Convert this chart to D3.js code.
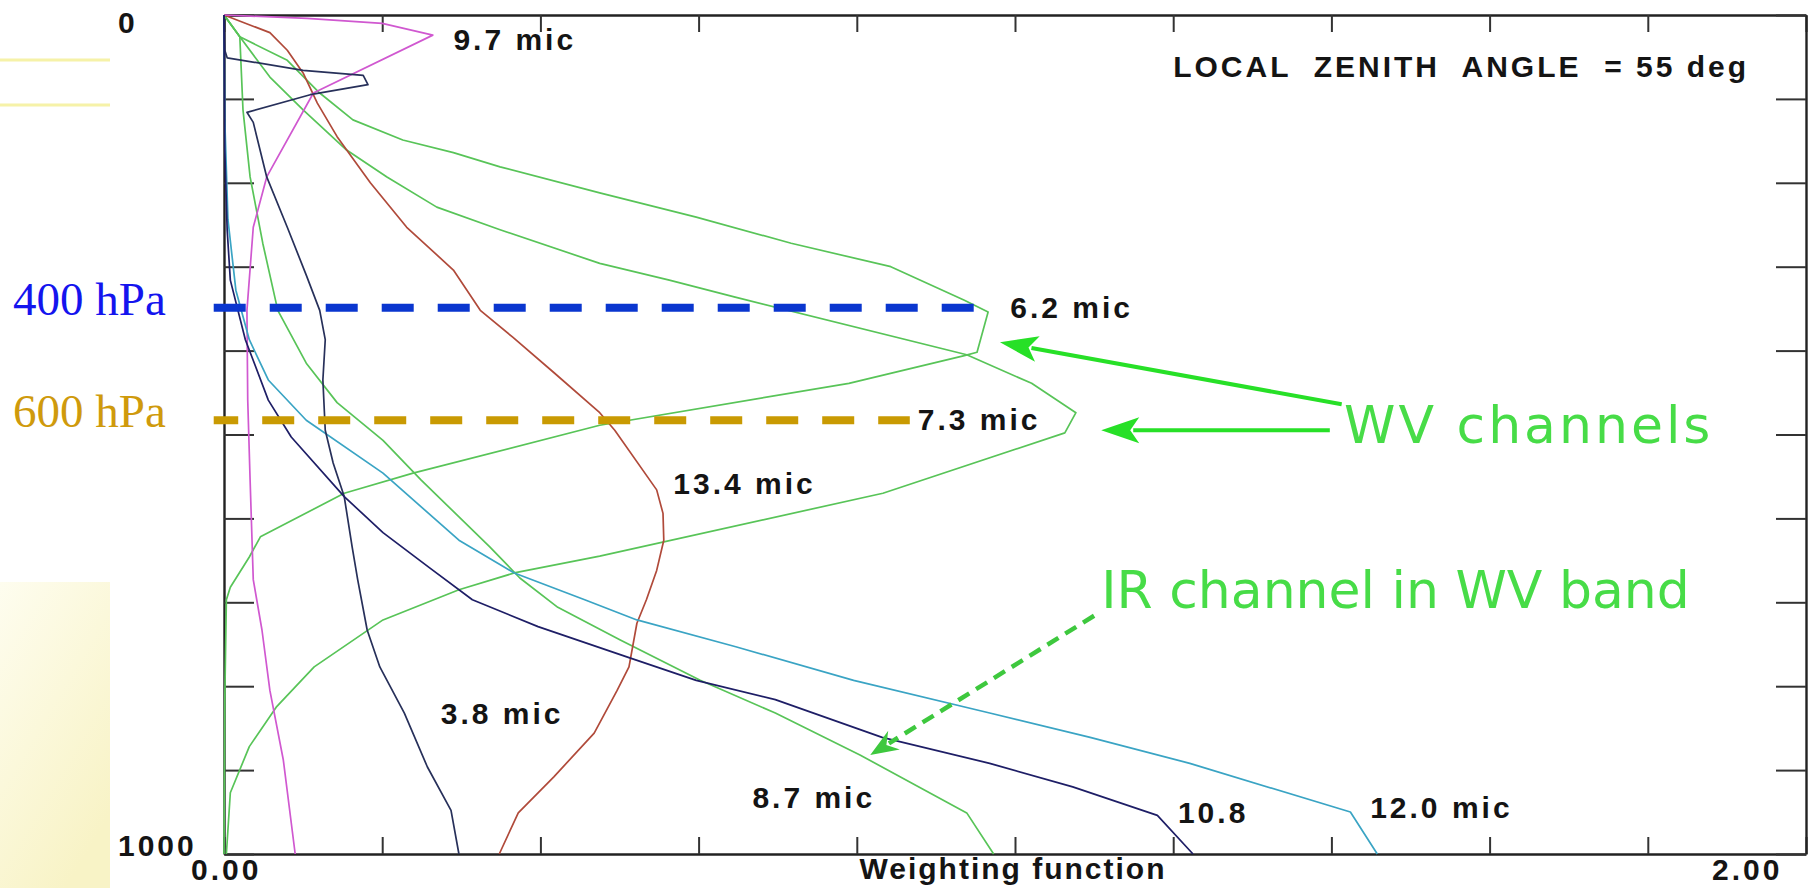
<!DOCTYPE html>
<html>
<head>
<meta charset="utf-8">
<title>Weighting functions - local zenith angle 55 deg</title>
<script src="https://cdn.jsdelivr.net/npm/d3@7"></script>
<style>
  body { margin: 0; background: #fff; }
  svg { display: block; }
  .lbl { font-family: "Liberation Sans", Arial, sans-serif; font-weight: bold; font-size: 30px;
         letter-spacing: 3px; fill: #141414; white-space: pre; }
  .note { font-family: "DejaVu Sans", sans-serif; font-size: 52px; fill: #47dc47; }
  .hpa { font-family: "Liberation Serif", "Times New Roman", serif; font-size: 47px; }
</style>
</head>
<body>
<svg width="1817" height="888"></svg>
<script>
// weighting function profiles: [weight, level]  (level 0 = top, 1000 = surface)
var ch38 = [[0,0],[0.001,42],[0.004,51],[0.100,66],[0.176,72],[0.182,83],[0.109,95],[0.029,116],[0.037,128],
  [0.054,193],[0.080,253],[0.104,310],[0.121,352],[0.128,387],[0.125,435],[0.128,495],[0.138,534],[0.152,574],
  [0.162,634],[0.169,673],[0.181,733],[0.197,777],[0.228,832],[0.257,896],[0.287,948],[0.297,1000]];
var ch62 = [[0,0],[0.020,26],[0.080,54],[0.121,93],[0.163,125],[0.226,149],[0.290,164],[0.349,181],[0.475,212],
  [0.597,241],[0.717,272],[0.843,300],[0.936,340],[0.966,354],[0.952,402],[0.936,406],[0.790,439],[0.475,489],
  [0.239,546],[0.152,570],[0.046,622],[0.032,646],[0.008,682],[0.003,697],[0.001,816],[0,1000]];
var ch73 = [[0,0],[0.020,26],[0.058,74],[0.100,113],[0.155,161],[0.206,193],[0.269,229],[0.349,256],[0.475,296],
  [0.563,316],[0.645,336],[0.939,405],[1.021,439],[1.077,474],[1.063,498],[0.833,570],[0.475,645],[0.367,665],
  [0.297,685],[0.201,721],[0.114,777],[0.066,825],[0.032,872],[0.008,927],[0.003,1000]];
var ch87 = [[0,0],[0.020,26],[0.024,113],[0.033,193],[0.049,272],[0.068,352],[0.104,415],[0.143,462],[0.201,507],
  [0.249,554],[0.336,634],[0.374,671],[0.422,706],[0.501,745],[0.602,793],[0.697,832],[0.804,882],[0.939,951],[0.973,1000]];
var ch97 = [[0,0],[0.105,4],[0.200,10],[0.264,24],[0.113,93],[0.054,193],[0.037,253],[0.029,352],[0.030,459],
  [0.033,554],[0.037,673],[0.048,733],[0.058,805],[0.075,888],[0.090,1000]];
var ch108 = [[0,0],[0.001,161],[0.004,256],[0.008,316],[0.027,387],[0.056,459],[0.085,503],[0.152,574],[0.201,617],
  [0.260,659],[0.314,697],[0.397,729],[0.512,766],[0.597,793],[0.697,816],[0.832,861],[0.968,892],[1.073,920],
  [1.180,954],[1.225,1000]];
var ch120 = [[0,0],[0.001,125],[0.005,244],[0.015,328],[0.032,387],[0.056,435],[0.104,483],[0.201,546],[0.297,626],
  [0.367,665],[0.456,697],[0.522,721],[0.647,753],[0.796,793],[0.968,832],[1.095,861],[1.221,892],[1.424,950],[1.458,1000]];
var ch134 = [[0,0],[0.058,21],[0.080,42],[0.100,69],[0.118,105],[0.143,145],[0.185,200],[0.231,253],[0.290,304],
  [0.324,352],[0.365,384],[0.418,427],[0.475,474],[0.494,495],[0.547,566],[0.555,594],[0.556,626],[0.547,662],
  [0.534,697],[0.522,725],[0.512,777],[0.497,805],[0.468,856],[0.417,908],[0.372,951],[0.348,1000]];

var xTicks = [0, 0.2, 0.4, 0.6, 0.8, 1.0, 1.2, 1.4, 1.6, 1.8, 2.0];
var yTicks = [0, 100, 200, 300, 400, 500, 600, 700, 800, 900, 1000];
var xTickLabels = ["0.00", "2.00"];
var yTickLabels = ["0", "1000"];

var curveLabels = [
  { text: "9.7 mic", w: 0.290, p: 42 },
  { text: "6.2 mic", w: 0.994, p: 361 },
  { text: "7.3 mic", w: 0.877, p: 495 },
  { text: "13.4 mic", w: 0.568, p: 571 },
  { text: "3.8 mic", w: 0.274, p: 845 },
  { text: "8.7 mic", w: 0.668, p: 945 },
  { text: "10.8", w: 1.206, p: 963 },
  { text: "12.0 mic", w: 1.449, p: 957 },
  { text: "LOCAL  ZENITH  ANGLE  = 55 deg", w: 1.200, p: 74 }
];

// pressure marker lines (level in axis units)
var refLines = [
  { label: "400 hPa", level: 349, from: -0.013, to: 0.948, offset: 0 },
  { label: "600 hPa", level: 483, from: -0.013, to: 0.867, offset: 7.5 }
];

var notes = [
  { text: "WV channels", w: 1.416, p: 510, spacing: 3 },
  { text: "IR channel in WV band", w: 1.109, p: 707, spacing: 0 }
];
var arrows = [
  { from: [1.413, 464], to: [0.981, 390], dashed: false },
  { from: [1.398, 495], to: [1.109, 495], dashed: false },
  { from: [1.100, 716], to: [0.817, 882], dashed: true }
];

var chColor = { "3.8": "#27305a", "6.2": "#58c458", "7.3": "#58c458", "8.7": "#58c458",
                "9.7": "#d058d0", "10.8": "#1e1e66", "12.0": "#3aa4c4", "13.4": "#b04a3a" };
var channels = [
  { name: "6.2", values: ch62 }, { name: "7.3", values: ch73 }, { name: "8.7", values: ch87 },
  { name: "13.4", values: ch134 }, { name: "9.7", values: ch97 }, { name: "12.0", values: ch120 },
  { name: "3.8", values: ch38 }, { name: "10.8", values: ch108 }
];
var refColor = [{ text: "#1414ee", dash: "#0a36cf" }, { text: "#cf9a0c", dash: "#c99a02" }];

var svg = d3.select("svg");
var x = d3.scaleLinear().domain([0, 2]).range([224, 1806]);
var y = d3.scaleLinear().domain([0, 1000]).range([15, 854]);

// pale slide decoration on the left
var defs = svg.append("defs");
var grad = defs.append("linearGradient").attr("id", "cream")
  .attr("x1", "0").attr("y1", "0").attr("x2", "0.6").attr("y2", "1");
grad.append("stop").attr("offset", "0%").attr("stop-color", "#fefdef");
grad.append("stop").attr("offset", "100%").attr("stop-color", "#f8f3c6");
svg.append("rect").attr("x", 0).attr("y", 582).attr("width", 110).attr("height", 306).attr("fill", "url(#cream)");
[60, 105].forEach(function (yy) {
  svg.append("rect").attr("x", 0).attr("y", yy - 1.5).attr("width", 110).attr("height", 3).attr("fill", "#f6f2a8");
});

// frame with inward ticks
var axes = svg.append("g");
axes.append("g").attr("transform", "translate(0," + y(1000) + ")")
  .call(d3.axisBottom(x).tickValues(xTicks).tickSize(-17).tickSizeOuter(0).tickFormat(""));
axes.append("g").attr("transform", "translate(0," + y(0) + ")")
  .call(d3.axisTop(x).tickValues(xTicks).tickSize(-17).tickSizeOuter(0).tickFormat(""));
axes.append("g").attr("transform", "translate(" + x(0) + ",0)")
  .call(d3.axisLeft(y).tickValues(yTicks).tickSize(-30).tickSizeOuter(0).tickFormat(""));
axes.append("g").attr("transform", "translate(" + x(2) + ",0)")
  .call(d3.axisRight(y).tickValues(yTicks).tickSize(-30).tickSizeOuter(0).tickFormat(""));
axes.selectAll(".domain").attr("stroke", "#222").attr("stroke-width", 2.4);
axes.selectAll(".tick line").attr("stroke", "#333").attr("stroke-width", 2);

// curves
var line = d3.line().x(function (d) { return x(d[0]); }).y(function (d) { return y(d[1]); });
svg.append("g").selectAll("path").data(channels).enter().append("path")
  .attr("d", function (d) { return line(d.values); })
  .attr("fill", "none")
  .attr("stroke", function (d) { return chColor[d.name]; })
  .attr("stroke-width", 1.7)
  .attr("stroke-linejoin", "round");

// tick labels
svg.append("text").attr("class", "lbl").attr("x", 118).attr("y", y(0) + 18).text(yTickLabels[0]);
svg.append("text").attr("class", "lbl").attr("x", 118).attr("y", y(1000) + 2).text(yTickLabels[1]);
svg.append("text").attr("class", "lbl").attr("x", x(0) - 33).attr("y", y(1000) + 26).text(xTickLabels[0]);
svg.append("text").attr("class", "lbl").attr("x", x(2) - 94).attr("y", y(1000) + 26).text(xTickLabels[1]);
svg.append("text").attr("class", "lbl").attr("x", x(1) - 2).attr("y", y(1000) + 25)
  .attr("text-anchor", "middle").style("letter-spacing", "2px").text("Weighting function");

// channel labels
svg.append("g").selectAll("text").data(curveLabels).enter().append("text")
  .attr("class", "lbl")
  .attr("x", function (d) { return x(d.w); })
  .attr("y", function (d) { return y(d.p); })
  .text(function (d) { return d.text; });

// pressure markers
refLines.forEach(function (r, i) {
  svg.append("line")
    .attr("x1", x(r.from)).attr("x2", x(r.to))
    .attr("y1", y(r.level)).attr("y2", y(r.level))
    .attr("stroke", refColor[i].dash).attr("stroke-width", 8)
    .attr("stroke-dasharray", "32,24").attr("stroke-dashoffset", r.offset);
  svg.append("text").attr("class", "hpa").attr("x", 13).attr("y", y(r.level) + 7)
    .attr("fill", refColor[i].text).text(r.label);
});

// green annotations
notes.forEach(function (n) {
  svg.append("text").attr("class", "note").attr("x", x(n.w)).attr("y", y(n.p))
    .style("letter-spacing", n.spacing + "px").text(n.text);
});
arrows.forEach(function (a) {
  var x0 = x(a.from[0]), y0 = y(a.from[1]), x1 = x(a.to[0]), y1 = y(a.to[1]);
  var ang = Math.atan2(y1 - y0, x1 - x0);
  var len = a.dashed ? 28 : 38, half = a.dashed ? 11 : 13;
  var bx = x1 - len * Math.cos(ang), by = y1 - len * Math.sin(ang);
  var col = a.dashed ? "#3ec83e" : "#27e027";
  svg.append("line").attr("x1", x0).attr("y1", y0).attr("x2", bx + 6 * Math.cos(ang)).attr("y2", by + 6 * Math.sin(ang))
    .attr("stroke", col).attr("stroke-width", a.dashed ? 4.5 : 4)
    .attr("stroke-dasharray", a.dashed ? "13,8" : null);
  var px = -Math.sin(ang) * half, py = Math.cos(ang) * half;
  svg.append("path")
    .attr("d", "M" + x1 + "," + y1 + "L" + (bx + px) + "," + (by + py) + "L" + (bx + 9 * Math.cos(ang)) + "," + (by + 9 * Math.sin(ang)) +
      "L" + (bx - px) + "," + (by - py) + "Z")
    .attr("fill", col);
});
</script>
</body>
</html>
